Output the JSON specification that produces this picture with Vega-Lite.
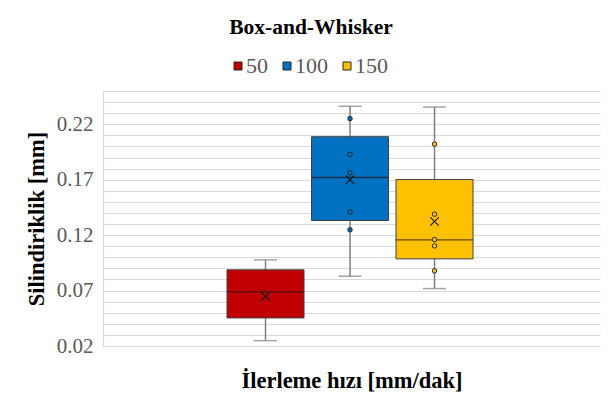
{
  "$schema": "https://vega.github.io/schema/vega-lite/v6.json",
  "autosize": {"type": "none"},
  "padding": {"left": 103, "top": 91, "right": 16, "bottom": 58},
  "width": 497,
  "height": 255,
  "background": "white",
  "title": {
    "text": "Box-and-Whisker",
    "font": "Liberation Serif",
    "fontSize": 21.5,
    "fontWeight": "bold",
    "color": "#000000",
    "anchor": "middle",
    "dx": -40.5,
    "offset": 17
  },
  "datasets": {
    "summary": [
      {"series": "50", "lower": 0.0248, "q1": 0.0453, "median": 0.0688, "q3": 0.0887, "upper": 0.0977, "mean": 0.0648},
      {"series": "100", "lower": 0.0829, "q1": 0.1332, "median": 0.1720, "q3": 0.2088, "upper": 0.2362, "mean": 0.1700},
      {"series": "150", "lower": 0.0718, "q1": 0.0986, "median": 0.1158, "q3": 0.1702, "upper": 0.2355, "mean": 0.1323}
    ],
    "points": [
      {"series": "100", "value": 0.2251},
      {"series": "100", "value": 0.1928},
      {"series": "100", "value": 0.1763},
      {"series": "100", "value": 0.1407},
      {"series": "100", "value": 0.1248},
      {"series": "150", "value": 0.2021},
      {"series": "150", "value": 0.1389},
      {"series": "150", "value": 0.1160},
      {"series": "150", "value": 0.1103},
      {"series": "150", "value": 0.0878}
    ]
  },
  "encoding": {
    "x": {
      "field": "series",
      "type": "nominal",
      "scale": {"domain": ["_l", "50", "100", "150", "_r"], "paddingInner": 0.0888, "paddingOuter": 0.4853, "align": 0.482},
      "axis": {
        "labels": false,
        "ticks": false,
        "domain": false,
        "grid": false,
        "title": "İlerleme hızı [mm/dak]",
        "titleFont": "Liberation Serif",
        "titleFontSize": 22.5,
        "titleFontWeight": "bold",
        "titleColor": "#000000",
        "titlePadding": 23
      }
    }
  },
  "layer": [
    {
      "data": {"name": "summary"},
      "mark": {"type": "rule", "color": "#7f7f7f", "strokeWidth": 1.5},
      "encoding": {
        "y": {
          "field": "lower",
          "type": "quantitative",
          "scale": {"domain": [0.02, 0.25], "nice": false, "zero": false},
          "axis": {
            "values": [0.02, 0.03, 0.04, 0.05, 0.06, 0.07, 0.08, 0.09, 0.10, 0.11, 0.12, 0.13, 0.14, 0.15, 0.16, 0.17, 0.18, 0.19, 0.20, 0.21, 0.22, 0.23, 0.24, 0.25],
            "labelExpr": "round(datum.value*100) % 5 == 2 ? format(datum.value, '.2f') : ''",
            "title": "Silindiriklik [mm]"
          }
        },
        "y2": {"field": "upper"}
      }
    },
    {
      "data": {"name": "summary"},
      "mark": {"type": "tick", "color": "#7f7f7f", "size": 23, "thickness": 1.5},
      "encoding": {"y": {"field": "lower", "type": "quantitative",
        "axis": {
          "values": [0.02, 0.03, 0.04, 0.05, 0.06, 0.07, 0.08, 0.09, 0.10, 0.11, 0.12, 0.13, 0.14, 0.15, 0.16, 0.17, 0.18, 0.19, 0.20, 0.21, 0.22, 0.23, 0.24, 0.25],
          "labelExpr": "round(datum.value*100) % 5 == 2 ? format(datum.value, '.2f') : ''",
          "title": "Silindiriklik [mm]"
        }}}
    },
    {
      "data": {"name": "summary"},
      "mark": {"type": "tick", "color": "#7f7f7f", "size": 23, "thickness": 1.5},
      "encoding": {"y": {"field": "upper", "type": "quantitative",
        "axis": {
          "values": [0.02, 0.03, 0.04, 0.05, 0.06, 0.07, 0.08, 0.09, 0.10, 0.11, 0.12, 0.13, 0.14, 0.15, 0.16, 0.17, 0.18, 0.19, 0.20, 0.21, 0.22, 0.23, 0.24, 0.25],
          "labelExpr": "round(datum.value*100) % 5 == 2 ? format(datum.value, '.2f') : ''",
          "title": "Silindiriklik [mm]"
        }}}
    },
    {
      "data": {"name": "summary"},
      "mark": {"type": "bar", "stroke": "#404040", "strokeWidth": 1},
      "encoding": {
        "y": {"field": "q1", "type": "quantitative",
          "axis": {
            "values": [0.02, 0.03, 0.04, 0.05, 0.06, 0.07, 0.08, 0.09, 0.10, 0.11, 0.12, 0.13, 0.14, 0.15, 0.16, 0.17, 0.18, 0.19, 0.20, 0.21, 0.22, 0.23, 0.24, 0.25],
            "labelExpr": "round(datum.value*100) % 5 == 2 ? format(datum.value, '.2f') : ''",
            "title": "Silindiriklik [mm]"
          }},
        "y2": {"field": "q3"},
        "color": {
          "field": "series",
          "type": "nominal",
          "scale": {"domain": ["50", "100", "150"], "range": ["#C00000", "#0070C0", "#FFC000"]},
          "legend": {
            "title": null,
            "orient": "none",
            "direction": "horizontal",
            "legendX": 124,
            "legendY": -36,
            "symbolType": "square",
            "symbolSize": 64,
            "symbolStrokeColor": "#404040",
            "symbolStrokeWidth": 1,
            "symbolOpacity": 1,
            "labelFont": "Liberation Serif",
            "labelFontSize": 22,
            "labelColor": "#595959",
            "labelOffset": -3,
            "columnPadding": 8
          }
        }
      }
    },
    {
      "data": {"name": "summary"},
      "mark": {"type": "tick", "color": "#1a1a1a", "size": 77, "thickness": 1.3},
      "encoding": {"y": {"field": "median", "type": "quantitative",
        "axis": {
          "values": [0.02, 0.03, 0.04, 0.05, 0.06, 0.07, 0.08, 0.09, 0.10, 0.11, 0.12, 0.13, 0.14, 0.15, 0.16, 0.17, 0.18, 0.19, 0.20, 0.21, 0.22, 0.23, 0.24, 0.25],
          "labelExpr": "round(datum.value*100) % 5 == 2 ? format(datum.value, '.2f') : ''",
          "title": "Silindiriklik [mm]"
        }}}
    },
    {
      "data": {"name": "points"},
      "mark": {"type": "point", "filled": true, "shape": "circle", "size": 20, "stroke": "#262626", "strokeWidth": 1, "opacity": 1},
      "encoding": {
        "y": {"field": "value", "type": "quantitative",
          "axis": {
            "values": [0.02, 0.03, 0.04, 0.05, 0.06, 0.07, 0.08, 0.09, 0.10, 0.11, 0.12, 0.13, 0.14, 0.15, 0.16, 0.17, 0.18, 0.19, 0.20, 0.21, 0.22, 0.23, 0.24, 0.25],
            "labelExpr": "round(datum.value*100) % 5 == 2 ? format(datum.value, '.2f') : ''",
            "title": "Silindiriklik [mm]"
          }},
        "color": {"field": "series", "type": "nominal"}
      }
    },
    {
      "data": {"name": "summary"},
      "mark": {"type": "point", "filled": false, "shape": "M-1,-1L1,1M-1,1L1,-1", "size": 70, "stroke": "#1a1a1a", "strokeWidth": 1.2, "opacity": 1},
      "encoding": {"y": {"field": "mean", "type": "quantitative",
        "axis": {
          "values": [0.02, 0.03, 0.04, 0.05, 0.06, 0.07, 0.08, 0.09, 0.10, 0.11, 0.12, 0.13, 0.14, 0.15, 0.16, 0.17, 0.18, 0.19, 0.20, 0.21, 0.22, 0.23, 0.24, 0.25],
          "labelExpr": "round(datum.value*100) % 5 == 2 ? format(datum.value, '.2f') : ''",
          "title": "Silindiriklik [mm]"
        }}}
    }
  ],
  "config": {
    "view": {"stroke": null},
    "font": "Liberation Serif",
    "axisY": {
      "labelOverlap": false,
      "grid": true,
      "gridColor": "#d9d9d9",
      "gridWidth": 1.2,
      "ticks": false,
      "domain": true,
      "domainColor": "#d9d9d9",
      "domainWidth": 1.2,
      "labelFont": "Liberation Serif",
      "labelFontSize": 21,
      "labelColor": "#595959",
      "labelPadding": 10,
      "titleFont": "Liberation Serif",
      "titleFontSize": 22.5,
      "titleFontWeight": "bold",
      "titleColor": "#000000",
      "titlePadding": 8
    }
  }
}
